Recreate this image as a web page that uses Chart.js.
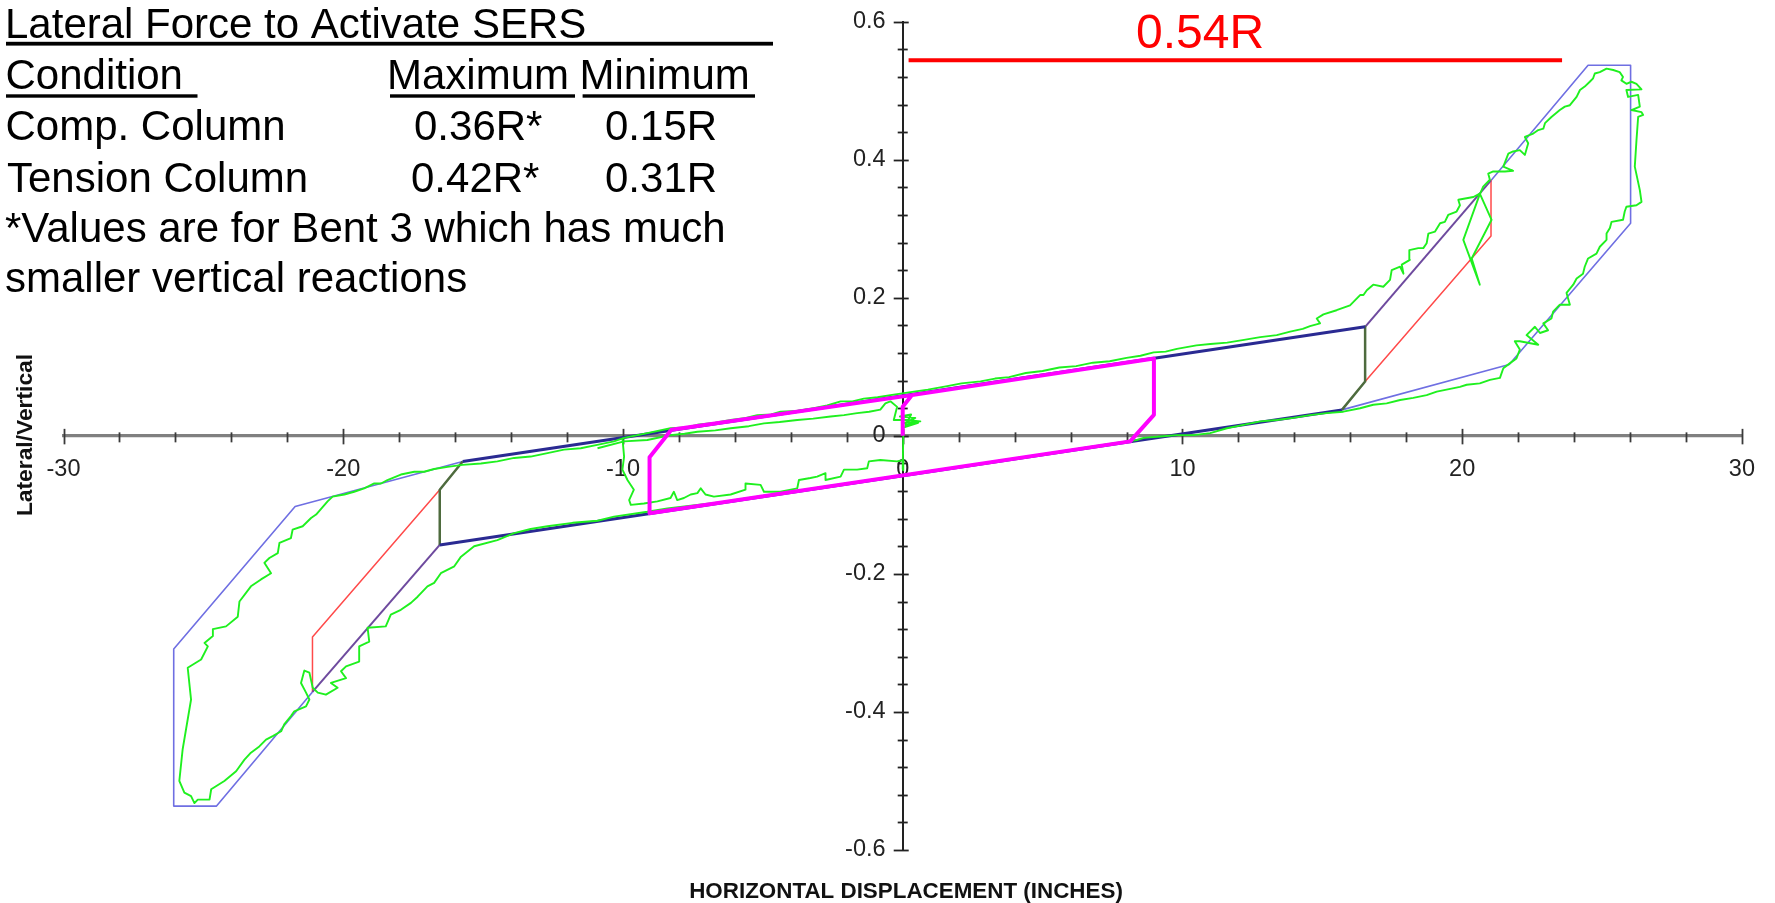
<!DOCTYPE html>
<html>
<head>
<meta charset="utf-8">
<script src="https://cdn.jsdelivr.net/npm/chart.js@4.4.1/dist/chart.umd.min.js"></script>
<style>
  html, body { margin: 0; padding: 0; background: #ffffff; }
  #wrap { position: relative; width: 1775px; height: 903px; }
  canvas { display: block; }
</style>
</head>
<body>
<div id="wrap"><canvas id="c" width="1775" height="903"></canvas></div>
<script>
// ---------------- DATA ----------------
const xTickValues = [-30, -20, -10, 0, 10, 20, 30];
const yTickValues = [-0.6, -0.4, -0.2, 0, 0.2, 0.4, 0.6];

const xTitle = 'HORIZONTAL DISPLACEMENT (INCHES)';
const yTitle = 'Lateral/Vertical';

const tableTitle = 'Lateral Force to Activate SERS';
const tableHeaders = ['Condition ', 'Maximum', 'Minimum'];
const tableRows = [
  ['Comp. Column', '0.36R*', '0.15R'],
  ['Tension Column', '0.42R*', '0.31R']
];
const tableNote = ['*Values are for Bent 3 which has much', 'smaller vertical reactions'];
const peakLabel = '0.54R';

// Idealized bilinear model lines
const envelopeRight = [[15.70,0.0376],[21.68,0.1035],[26.02,0.308],[26.02,0.537],[24.50,0.537],[21.03,0.370]];
const envelopeLeft  = [[-15.73,-0.0372],[-21.72,-0.1023],[-26.06,-0.3087],[-26.06,-0.5364],[-24.53,-0.5364],[-21.10,-0.371]];
const loadingRight  = [[21.03,0.370],[16.53,0.158]];
const loadingLeft   = [[-21.10,-0.371],[-16.55,-0.158]];
const unloadRight   = [[21.03,0.370],[21.03,0.2895],[16.53,0.0787]];
const unloadLeft    = [[-21.10,-0.371],[-21.10,-0.2913],[-16.55,-0.0781]];
const stepRight     = [[16.53,0.158],[16.53,0.0787],[15.70,0.0376]];
const stepLeft      = [[-16.55,-0.158],[-16.55,-0.0781],[-15.73,-0.0372]];
const upperBranch   = [[-15.73,-0.0372],[16.53,0.158]];
const lowerBranch   = [[-16.55,-0.158],[15.70,0.0376]];
const smallLoop     = [[0,0],[0,0.042],[0.33,0.059],[8.98,0.112],[8.98,0.0304],[8.13,-0.008],[-9.05,-0.112],[-9.05,-0.031],[-8.27,0.0087],[0.33,0.059]];
const peakLine      = [[0.21,0.5441],[23.57,0.5441]];

const testLoop = [
  [-9.96,-0.003],[-9.13,0.004],[-8.30,0.011],[-7.80,0.012],[-7.34,0.016],[-6.70,0.019],[-6.15,0.023],[-5.60,0.026],[-5.20,0.030],[-4.70,0.031],
  [-4.37,0.035],[-3.80,0.036],[-3.18,0.040],[-2.70,0.044],[-2.22,0.050],[-1.80,0.050],[-1.39,0.054],[-0.90,0.056],[-0.44,0.059],[0.40,0.064],
  [0.90,0.067],[1.59,0.072],[2.10,0.076],[2.78,0.079],[3.30,0.083],[3.80,0.085],[4.40,0.091],[5.00,0.094],[5.60,0.099],[6.20,0.101],
  [6.80,0.106],[7.40,0.108],[8.00,0.113],[8.50,0.116],[8.97,0.121],[9.40,0.122],[9.80,0.126],[10.50,0.131],[11.00,0.133],[11.60,0.135],
  [12.20,0.139],[12.78,0.143],[13.37,0.146],[13.85,0.151],[14.30,0.155],[14.56,0.159],[14.92,0.163],[14.80,0.170],[15.04,0.176],[15.51,0.182],
  [15.99,0.189],[16.35,0.204],[16.47,0.204],[16.59,0.211],[16.82,0.219],[17.18,0.216],[17.42,0.226],[17.48,0.240],[17.78,0.245],[17.90,0.235],
  [17.84,0.248],[18.13,0.255],[18.11,0.269],[18.43,0.272],[18.61,0.272],[18.73,0.279],[18.79,0.293],[19.03,0.296],[19.21,0.308],[19.38,0.310],
  [19.50,0.320],[19.80,0.325],[19.92,0.334],[19.86,0.342],[20.40,0.346],[20.63,0.351],[21.05,0.313],[20.34,0.257],[20.63,0.219],[20.04,0.284],
  [20.60,0.347],[20.75,0.361],[20.99,0.371],[20.93,0.380],[21.11,0.383],[21.53,0.383],[21.82,0.384],[21.47,0.390],[21.65,0.409],[21.82,0.412],
  [22.06,0.414],[22.24,0.407],[22.36,0.424],[22.24,0.433],[22.54,0.438],[22.72,0.443],[22.90,0.445],[22.96,0.453],[23.19,0.462],[23.49,0.472],
  [23.67,0.477],[23.85,0.479],[24.09,0.491],[24.21,0.501],[24.38,0.506],[24.56,0.513],[24.68,0.518],[24.74,0.525],[24.92,0.527],[25.16,0.532],
  [25.40,0.530],[25.63,0.527],[25.75,0.520],[25.69,0.515],[25.87,0.510],[26.05,0.513],[26.23,0.510],[26.41,0.502],[25.87,0.501],[25.93,0.491],
  [26.29,0.494],[26.35,0.477],[26.05,0.472],[26.41,0.469],[26.47,0.465],[26.29,0.462],[26.23,0.428],[26.17,0.390],[26.35,0.356],[26.41,0.339],
  [26.23,0.334],[25.87,0.332],[25.81,0.325],[25.75,0.313],[25.34,0.310],[25.28,0.301],[25.16,0.293],[25.16,0.284],[24.92,0.274],[24.80,0.264],
  [24.50,0.257],[24.38,0.245],[24.32,0.235],[24.09,0.228],[23.97,0.219],[23.73,0.207],[23.85,0.190],[23.49,0.190],[23.25,0.180],[23.19,0.170],
  [22.90,0.163],[23.07,0.153],[22.78,0.149],[22.60,0.158],[22.30,0.146],[22.72,0.132],[22.06,0.137],[21.88,0.137],[22.06,0.125],[21.94,0.112],
  [21.70,0.105],[21.47,0.098],[21.35,0.084],[20.99,0.081],[20.63,0.076],[20.16,0.074],[19.92,0.071],[19.44,0.067],[19.09,0.064],[18.73,0.059],
  [18.25,0.055],[17.78,0.052],[17.30,0.047],[16.82,0.045],[16.35,0.040],[15.75,0.035],[15.16,0.033],[14.56,0.030],[13.97,0.026],[13.37,0.023],
  [12.78,0.021],[12.18,0.016],[11.59,0.011],[10.99,0.004],[10.40,0.001],[9.80,0.001],[9.20,-0.001],[8.61,-0.003],[8.37,-0.006],[7.50,-0.011],
  [6.50,-0.017],[5.50,-0.024],[4.50,-0.030],[3.50,-0.036],[2.50,-0.042],[1.50,-0.048],[0.50,-0.054],[-0.50,-0.060],[-1.50,-0.066],[-2.50,-0.072],
  [-3.50,-0.078],[-4.50,-0.084],[-5.50,-0.090],[-6.50,-0.096],[-7.50,-0.101],[-8.41,-0.105],[-9.13,-0.110],[-10.32,-0.117],[-10.91,-0.123],[-11.80,-0.126],
  [-12.70,-0.131],[-13.30,-0.135],[-13.89,-0.141],[-14.49,-0.151],[-15.32,-0.160],[-15.79,-0.175],[-16.03,-0.189],[-16.51,-0.199],[-16.75,-0.213],[-16.99,-0.218],
  [-17.34,-0.233],[-17.58,-0.242],[-17.94,-0.252],[-18.30,-0.259],[-18.48,-0.276],[-19.13,-0.278],[-19.07,-0.298],[-19.43,-0.305],[-19.43,-0.327],[-19.90,-0.334],
  [-20.08,-0.341],[-19.90,-0.351],[-20.44,-0.358],[-20.20,-0.365],[-20.62,-0.375],[-20.91,-0.372],[-21.09,-0.365],[-21.21,-0.343],[-21.39,-0.340],[-21.51,-0.358],
  [-21.33,-0.372],[-21.21,-0.382],[-21.33,-0.392],[-21.75,-0.399],[-21.87,-0.406],[-22.11,-0.418],[-22.22,-0.428],[-22.52,-0.435],[-22.76,-0.440],[-23.00,-0.450],
  [-23.30,-0.459],[-23.53,-0.469],[-23.83,-0.486],[-24.25,-0.500],[-24.72,-0.512],[-24.78,-0.527],[-25.20,-0.527],[-25.32,-0.532],[-25.44,-0.522],[-25.68,-0.517],
  [-25.86,-0.500],[-25.74,-0.454],[-25.44,-0.382],[-25.56,-0.336],[-25.08,-0.324],[-24.84,-0.305],[-24.96,-0.300],[-24.66,-0.290],[-24.66,-0.280],[-24.19,-0.276],
  [-23.77,-0.262],[-23.71,-0.240],[-23.30,-0.218],[-22.94,-0.208],[-22.58,-0.199],[-22.82,-0.184],[-22.64,-0.177],[-22.34,-0.170],[-22.28,-0.155],[-21.87,-0.148],
  [-21.81,-0.136],[-21.45,-0.131],[-21.15,-0.119],[-20.97,-0.114],[-20.56,-0.095],[-20.38,-0.088],[-19.96,-0.085],[-19.61,-0.081],[-19.25,-0.076],[-18.89,-0.069],
  [-18.65,-0.069],[-18.42,-0.064],[-17.94,-0.056],[-17.46,-0.052],[-17.11,-0.052],[-16.75,-0.048],[-16.27,-0.045],[-15.74,-0.042],[-15.08,-0.040],[-14.49,-0.037],
  [-13.89,-0.032],[-13.30,-0.030],[-12.70,-0.025],[-12.11,-0.020],[-11.51,-0.018],[-10.92,-0.013],[-10.32,-0.008],[-9.96,-0.003]
];
const testInner = [
  [-10.91,-0.018],[-9.96,-0.008],[-9.13,-0.006],[-8.30,0.001],[-7.80,0.003],[-7.34,0.006],[-6.70,0.008],[-6.15,0.011],[-5.50,0.014],[-4.96,0.018],
  [-4.40,0.020],[-3.77,0.023],[-3.20,0.025],[-2.58,0.028],[-2.10,0.030],[-1.63,0.033],[-1.20,0.035],[-0.80,0.038],[-0.62,0.047],[-0.44,0.050],
  [-0.20,0.042],[-0.32,0.023],[0.16,0.023],[0.63,0.021],[0.04,0.018],[0.45,0.026],[-0.10,0.028],[0.30,0.031],[0.10,0.015],[0.55,0.019],[0.02,0.012]
];
const testSmall = [
  [-10.02,-0.003],[-9.96,-0.030],[-10.02,-0.049],[-9.84,-0.064],[-9.61,-0.078],[-9.78,-0.093],[-9.72,-0.100],[-9.25,-0.098],[-8.77,-0.095],[-8.30,-0.090],
  [-8.18,-0.081],[-8.06,-0.093],[-7.82,-0.090],[-7.58,-0.085],[-7.34,-0.083],[-7.22,-0.076],[-7.05,-0.085],[-6.75,-0.088],[-6.15,-0.085],[-5.62,-0.078],
  [-5.62,-0.069],[-5.08,-0.071],[-4.96,-0.081],[-4.37,-0.081],[-3.77,-0.076],[-3.71,-0.064],[-3.30,-0.061],[-3.06,-0.059],[-2.76,-0.054],[-2.76,-0.064],
  [-2.22,-0.059],[-2.10,-0.049],[-1.63,-0.049],[-1.27,-0.047],[-1.21,-0.037],[-0.80,-0.035],[-0.20,-0.037],[0.02,-0.035],[0.02,-0.050],[0.00,-0.048],
  [0.02,0.0],[0.0,0.03]
];

// ---------------- STYLE ----------------
const FF = "'Liberation Sans', Arial, Helvetica, sans-serif";
const toXY = arr => arr.map(p => ({x: p[0], y: p[1]}));
function line(data, color, width, order) {
  return { data: toXY(data), borderColor: color, backgroundColor: color, borderWidth: width,
           showLine: true, pointRadius: 0, pointHoverRadius: 0, fill: false, tension: 0,
           borderJoinStyle: 'round', borderCapStyle: 'butt', order: order, yAxisID: 'y', xAxisID: 'x' };
}

const GREEN = '#1ff01f';
const datasets = [
  line(peakLine, '#ff0000', 4, 0),
  line(smallLoop, '#ff00ff', 4, 1),
  line(testLoop, GREEN, 1.9, 3),
  line(testInner, GREEN, 1.9, 3),
  line(testSmall, GREEN, 1.9, 3),
  line(upperBranch, '#2a2a92', 3, 4),
  line(lowerBranch, '#2a2a92', 3, 4),
  line(stepRight, '#4e6b3e', 2.5, 5),
  line(stepLeft, '#4e6b3e', 2.5, 5),
  line(loadingRight, '#6e4a9e', 2, 6),
  line(loadingLeft, '#6e4a9e', 2, 6),
  line(unloadRight, '#ff4a4a', 1.5, 7),
  line(unloadLeft, '#ff4a4a', 1.5, 7),
  line(envelopeRight, '#6f6fe2', 1.6, 8),
  line(envelopeLeft, '#6f6fe2', 1.6, 8)
];

// tick marks crossing the axes
const tickMarks = {
  id: 'tickMarks',
  beforeDatasetsDraw(chart) {
    const ctx = chart.ctx, xs = chart.scales.x, ys = chart.scales.y;
    const y0 = ys.getPixelForValue(0), x0 = xs.getPixelForValue(0);
    ctx.save();
    ctx.lineWidth = 1.8;
    ctx.strokeStyle = '#3a3a3a';
    for (let k = -15; k <= 15; k++) {
      const v = k * 2, px = Math.round(xs.getPixelForValue(v)) + 0.5;
      const major = k % 5 === 0;
      ctx.beginPath();
      ctx.moveTo(px, y0 - (major ? 7 : 3.5));
      ctx.lineTo(px, y0 + (major ? 8.5 : 6.5));
      ctx.stroke();
    }
    ctx.strokeStyle = '#222';
    for (let k = -15; k <= 15; k++) {
      const py = Math.round(ys.getPixelForValue(k * 0.04)) + 0.5;
      const major = k % 5 === 0;
      ctx.beginPath();
      ctx.moveTo(x0 - (major ? 9 : 5), py);
      ctx.lineTo(x0 + (major ? 6 : 5), py);
      ctx.stroke();
    }
    ctx.restore();
  }
};

// titles and table annotations
const annotations = {
  id: 'annotations',
  afterDraw(chart) {
    const ctx = chart.ctx;
    ctx.save();
    ctx.textBaseline = 'alphabetic';
    // axis titles
    ctx.fillStyle = '#111';
    ctx.font = `bold 22.4px ${FF}`;
    ctx.textAlign = 'center';
    ctx.fillText(xTitle, 906, 898);
    ctx.save();
    ctx.translate(31.5, 435);
    ctx.rotate(-Math.PI / 2);
    ctx.font = `bold 22.8px ${FF}`;
    ctx.fillText(yTitle, 0, 0);
    ctx.restore();

    // table
    ctx.fillStyle = '#000';
    ctx.textAlign = 'left';
    ctx.font = `42px ${FF}`;
    ctx.fillText(tableTitle, 5, 37.5);
    ctx.fillRect(6, 41.8, 767, 3.8);
    ctx.fillText(tableHeaders[0].trim(), 5.5, 88.5);
    ctx.fillRect(6, 94.3, 191.5, 3.4);
    ctx.fillText(tableHeaders[1], 387, 88.5);
    ctx.fillRect(390, 94.3, 185, 3.4);
    ctx.fillText(tableHeaders[2], 579.5, 88.5);
    ctx.fillRect(582.6, 94.3, 172.4, 3.4);
    const rowY = [140, 191.5];
    const maxX = [414, 411];
    tableRows.forEach((r, i) => {
      ctx.fillText(r[0], i === 0 ? 5.5 : 7, rowY[i]);
      ctx.fillText(r[1], maxX[i], rowY[i]);
      ctx.fillText(r[2], 605, rowY[i]);
    });
    ctx.fillText(tableNote[0], 5, 241.7);
    ctx.fillText(tableNote[1], 5, 291.7);

    // peak label
    ctx.fillStyle = '#ff0000';
    ctx.font = `48px ${FF}`;
    ctx.fillText(peakLabel, 1136, 48.3);
    ctx.restore();
  }
};

new Chart(document.getElementById('c'), {
  type: 'scatter',
  data: { datasets },
  options: {
    responsive: false,
    devicePixelRatio: 1,
    animation: false,
    events: [],
    layout: { padding: { left: 63.5, right: 29, top: 21.7, bottom: 53 } },
    plugins: { legend: { display: false }, tooltip: { enabled: false }, title: { display: false } },
    scales: {
      x: {
        type: 'linear', min: -30, max: 30,
        position: { y: 0 },
        grid: { display: false, drawTicks: false },
        border: { display: true, color: '#808080', width: 3.2 },
        afterBuildTicks: s => { s.ticks = xTickValues.map(v => ({ value: v })); },
        ticks: {
          autoSkip: false, maxRotation: 0, padding: 20,
          color: '#222', font: { family: FF, size: 23.5, lineHeight: 1.2 },
          callback: v => String(v)
        }
      },
      y: {
        type: 'linear', min: -0.6, max: 0.6,
        position: { x: 0 },
        grid: { display: false, drawTicks: false },
        border: { display: true, color: '#222', width: 2 },
        ticks: { display: false }
      },
      yl: {
        type: 'linear', min: -0.6, max: 0.6,
        position: { x: -0.613 },
        grid: { display: false, drawTicks: false },
        border: { display: false },
        afterBuildTicks: s => { s.ticks = yTickValues.map(v => ({ value: v })); },
        ticks: {
          autoSkip: false, padding: 0,
          color: '#222', font: { family: FF, size: 23.5, lineHeight: 1.2 },
          callback: v => String(Math.round(v * 10) / 10)
        }
      }
    }
  },
  plugins: [tickMarks, annotations]
});
</script>
</body>
</html>
